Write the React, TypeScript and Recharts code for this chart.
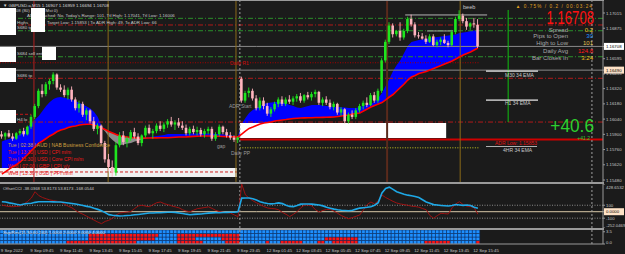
import React from "react";
import {
  ComposedChart,
  BarChart,
  Bar,
  Line,
  Area,
  XAxis,
  YAxis,
  ReferenceLine,
  ReferenceArea,
  Cell,
} from "recharts";

// GBPUSD.a M15, one entry per bar from 9 Sep 07:45 to 12 Sep 16:00
const opens = [
  1.159, 1.1588, 1.1591, 1.1588, 1.1586, 1.1591, 1.1593, 1.159, 1.1597, 1.1606,
  1.1616, 1.163, 1.1627, 1.1636, 1.1639, 1.1645, 1.1633, 1.1631, 1.1626, 1.1631,
  1.1622, 1.1614, 1.1618, 1.1608, 1.1612, 1.1602, 1.1595, 1.1598, 1.1582, 1.1567,
  1.156, 1.1555, 1.158, 1.1589, 1.1583, 1.1586, 1.1592, 1.1588, 1.1582, 1.1589,
  1.1596, 1.1591, 1.1593, 1.1598, 1.1595, 1.1599, 1.1602, 1.1599, 1.1601, 1.1598,
  1.1596, 1.1591, 1.1595, 1.1592, 1.1594, 1.159, 1.1593, 1.1595, 1.1586, 1.159,
  1.1597, 1.1592, 1.1589, 1.1587, 1.1585, 1.1641, 1.1621, 1.1628, 1.163, 1.1623,
  1.1614, 1.1621, 1.1616, 1.1609, 1.1613, 1.1618, 1.1622, 1.1618, 1.1622, 1.162,
  1.1623, 1.1625, 1.1621, 1.1626, 1.1624, 1.1627, 1.1629, 1.1619, 1.1622, 1.1619,
  1.1615, 1.1618, 1.161, 1.1613, 1.1602, 1.1608, 1.1606, 1.1612, 1.1616, 1.1619,
  1.1617, 1.1626, 1.1621, 1.163, 1.1658, 1.1675, 1.169, 1.1682, 1.1685, 1.1679,
  1.1685, 1.1696, 1.1691, 1.1681, 1.168, 1.1678, 1.1675, 1.168, 1.1672, 1.1675,
  1.1677, 1.1674, 1.1672, 1.1684, 1.1696, 1.1699, 1.1694, 1.1689, 1.1692, 1.16907,
];
const highs = [
  1.1593, 1.1592, 1.1594, 1.1591, 1.1592, 1.1595, 1.1596, 1.1598, 1.1608, 1.1618,
  1.1632, 1.1636, 1.1638, 1.1641, 1.1647, 1.1646, 1.1636, 1.1635, 1.1633, 1.1634,
  1.1624, 1.1621, 1.162, 1.1614, 1.1613, 1.1606, 1.16, 1.1599, 1.1584, 1.1572,
  1.1566, 1.1583, 1.1592, 1.1593, 1.1588, 1.1594, 1.1596, 1.1591, 1.159, 1.1598,
  1.1599, 1.1595, 1.16, 1.1602, 1.1601, 1.1604, 1.1606, 1.1603, 1.1605, 1.1602,
  1.1599, 1.1597, 1.1598, 1.1597, 1.1596, 1.1595, 1.1597, 1.1597, 1.1592, 1.1599,
  1.1598, 1.1595, 1.1592, 1.1589, 1.1588, 1.1643, 1.163, 1.1633, 1.1632, 1.1626,
  1.1624, 1.1624, 1.1619, 1.1615, 1.162, 1.1624, 1.1625, 1.1624, 1.1626, 1.1625,
  1.1627, 1.1628, 1.1627, 1.1629, 1.1629, 1.1631, 1.163, 1.1624, 1.1625, 1.1622,
  1.162, 1.1619, 1.1615, 1.1614, 1.161, 1.1612, 1.1614, 1.1618, 1.1621, 1.1624,
  1.1628, 1.1629, 1.1632, 1.166, 1.1677, 1.1693, 1.1692, 1.1686, 1.1693, 1.1687,
  1.1698, 1.17, 1.1693, 1.1684, 1.1683, 1.1681, 1.1682, 1.1682, 1.1677, 1.1679,
  1.1682, 1.1676, 1.1686, 1.1698, 1.1704, 1.1701, 1.1697, 1.1693, 1.1697, 1.16959,
];
const lows = [
  1.1586, 1.1585, 1.1587, 1.1584, 1.1585, 1.1589, 1.1588, 1.1589, 1.1595, 1.1604,
  1.1614, 1.1624, 1.1625, 1.1631, 1.1636, 1.1631, 1.1629, 1.1624, 1.1622, 1.162,
  1.1612, 1.161, 1.1606, 1.1603, 1.16, 1.1593, 1.159, 1.158, 1.1564, 1.1556,
  1.1551, 1.1552, 1.1578, 1.158, 1.1578, 1.1584, 1.1586, 1.158, 1.1579, 1.1587,
  1.159, 1.1586, 1.1591, 1.1593, 1.1592, 1.1596, 1.1597, 1.1594, 1.1596, 1.1594,
  1.1589, 1.1589, 1.159, 1.1589, 1.1588, 1.1587, 1.159, 1.1584, 1.1584, 1.1588,
  1.159, 1.1587, 1.1585, 1.1583, 1.1582, 1.1619, 1.1619, 1.1624, 1.1621, 1.1612,
  1.1612, 1.1613, 1.1607, 1.1606, 1.1611, 1.1615, 1.1616, 1.1616, 1.1618, 1.1617,
  1.162, 1.1619, 1.1619, 1.1622, 1.1621, 1.1624, 1.1617, 1.1616, 1.1617, 1.1613,
  1.1612, 1.1608, 1.1607, 1.16, 1.16, 1.1604, 1.1604, 1.161, 1.1613, 1.1615,
  1.1616, 1.1619, 1.1619, 1.1628, 1.1656, 1.1673, 1.1679, 1.168, 1.1676, 1.1677,
  1.1683, 1.1689, 1.1679, 1.1678, 1.1677, 1.1673, 1.1674, 1.1671, 1.167, 1.1672,
  1.1673, 1.167, 1.1671, 1.1682, 1.1694, 1.1692, 1.1686, 1.1686, 1.1688, 1.16694,
];
const closes = [
  1.1588, 1.1591, 1.1588, 1.1586, 1.1591, 1.1593, 1.159, 1.1597, 1.1606, 1.1616,
  1.163, 1.1627, 1.1636, 1.1639, 1.1645, 1.1633, 1.1631, 1.1626, 1.1631, 1.1622,
  1.1614, 1.1618, 1.1608, 1.1612, 1.1602, 1.1595, 1.1598, 1.1582, 1.1567, 1.156,
  1.1555, 1.158, 1.1589, 1.1583, 1.1586, 1.1592, 1.1588, 1.1582, 1.1589, 1.1596,
  1.1591, 1.1593, 1.1598, 1.1595, 1.1599, 1.1602, 1.1599, 1.1601, 1.1598, 1.1596,
  1.1591, 1.1595, 1.1592, 1.1594, 1.159, 1.1593, 1.1595, 1.1586, 1.159, 1.1597,
  1.1592, 1.1589, 1.1587, 1.1585, 1.1587, 1.1621, 1.1628, 1.163, 1.1623, 1.1614,
  1.1621, 1.1616, 1.1609, 1.1613, 1.1618, 1.1622, 1.1618, 1.1622, 1.162, 1.1623,
  1.1625, 1.1621, 1.1626, 1.1624, 1.1627, 1.1629, 1.1619, 1.1622, 1.1619, 1.1615,
  1.1618, 1.161, 1.1613, 1.1602, 1.1608, 1.1606, 1.1612, 1.1616, 1.1619, 1.1617,
  1.1626, 1.1621, 1.163, 1.1658, 1.1675, 1.169, 1.1682, 1.1685, 1.1679, 1.1685,
  1.1696, 1.1691, 1.1681, 1.168, 1.1678, 1.1675, 1.168, 1.1672, 1.1675, 1.1677,
  1.1674, 1.1672, 1.1684, 1.1696, 1.1699, 1.1694, 1.1689, 1.1692, 1.1691, 1.16708,
];

// fast (blue) and slow (red) moving averages
const fastMa = [
  1.15834, 1.15848, 1.15857, 1.15871, 1.15885, 1.15898, 1.1593, 1.15967, 1.15999, 1.16036,
  1.16068, 1.16115, 1.1616, 1.16197, 1.16225, 1.16238, 1.16243, 1.16234, 1.16229, 1.16216,
  1.16206, 1.16188, 1.16174, 1.16156, 1.16137, 1.16105, 1.16059, 1.15977, 1.15926, 1.1588,
  1.15848, 1.1582, 1.15802, 1.15807, 1.15816, 1.1582, 1.15834, 1.15843, 1.15852, 1.15862,
  1.15875, 1.1588, 1.15885, 1.15889, 1.15894, 1.15903, 1.15903, 1.15903, 1.15902, 1.15903,
  1.15904, 1.15907, 1.15908, 1.15908, 1.15909, 1.15908, 1.15907, 1.15907, 1.15903, 1.15902,
  1.15898, 1.15894, 1.15889, 1.15885, 1.15884, 1.15995, 1.1605, 1.16096, 1.16124, 1.16142,
  1.1616, 1.16179, 1.16188, 1.16192, 1.16197, 1.16197, 1.16192, 1.16183, 1.1617, 1.1616,
  1.16147, 1.16142, 1.16151, 1.1616, 1.1617, 1.1617, 1.16169, 1.16165, 1.1616, 1.16156,
  1.16151, 1.16151, 1.1615, 1.16147, 1.16142, 1.16142, 1.16143, 1.16151, 1.1616, 1.1617,
  1.16183, 1.16197, 1.16234, 1.1628, 1.16344, 1.16409, 1.16482, 1.16537, 1.16583, 1.16647,
  1.16712, 1.16749, 1.16758, 1.16767, 1.16772, 1.16776, 1.16785, 1.1679, 1.16794, 1.16799,
  1.16804, 1.16808, 1.16813, 1.16817, 1.16831, 1.16836, 1.1684, 1.1685, 1.16854, 1.16859,
];
const slowMa = [
  1.15535, 1.15558, 1.15581, 1.15604, 1.15623, 1.15646, 1.15682, 1.15715, 1.15751, 1.15784,
  1.1582, 1.15839, 1.15862, 1.15885, 1.15903, 1.15926, 1.1594, 1.15949, 1.15963, 1.15972,
  1.15977, 1.15986, 1.1599, 1.15992, 1.15993, 1.15986, 1.15972, 1.15961, 1.15944, 1.15926,
  1.15912, 1.15898, 1.15885, 1.1588, 1.15875, 1.15871, 1.15868, 1.15866, 1.15866, 1.15866,
  1.15866, 1.15867, 1.15867, 1.15868, 1.15868, 1.15869, 1.15871, 1.15873, 1.15875, 1.15876,
  1.15877, 1.15879, 1.15881, 1.15883, 1.15884, 1.15885, 1.15885, 1.15884, 1.15883, 1.15882,
  1.1588, 1.15879, 1.15878, 1.15877, 1.15876, 1.15903, 1.1593, 1.15954, 1.15967, 1.15981,
  1.15995, 1.16004, 1.16009, 1.16013, 1.16022, 1.16027, 1.16032, 1.16036, 1.16041, 1.16045,
  1.16048, 1.1605, 1.16051, 1.16052, 1.16053, 1.16054, 1.16055, 1.16056, 1.16057, 1.16058,
  1.16059, 1.16064, 1.16068, 1.16073, 1.16078, 1.16087, 1.16091, 1.16096, 1.16114, 1.16133,
  1.16151, 1.16165, 1.16179, 1.16192, 1.16216, 1.16243, 1.16266, 1.16298, 1.1633, 1.16363,
  1.16399, 1.16427, 1.1644, 1.16459, 1.16468, 1.16477, 1.16491, 1.16505, 1.16519, 1.16532,
  1.16546, 1.1656, 1.16574, 1.16592, 1.16611, 1.16629, 1.16643, 1.16657, 1.16675, 1.16693,
];

// OffsetCCI sub window: main (dark red) and signal (cyan)
const cciMain = [
  104, 90, 80, 77, 82, 88, 120, 160, 212, 309,
  250, 220, 200, 182, 172, 162, 150, 115, 85, 60,
  20, -15, -40, -70, -100, -130, -160, -185, -150, -132,
  -100, -50, -20, -12, -5, 5, 50, 90, 100, 85,
  78, 110, 140, 150, 125, 108, 90, 75, 60, 30,
  10, 0, 25, 48, 55, 65, 75, 50, 20, 2,
  -8, -15, -22, -50, -77, 428.6532, 260, 210, 170, 138,
  110, 80, 58, 50, 45, 30, -10, -40, -75, -40,
  0, 60, 104, 104, 90, 30, -5, 20, 35, 35,
  10, -25, -60, -85, -110, -90, -70, -50, 30, 110,
  150, 120, 170, 258, 220, 190, 160, 135, 120, 110,
  100, 85, 80, 70, 50, 30, -60, -100, -60, -25,
  -30, -35, 60, 120, 155, 110, 85, 80, 60, -38.0368,
];
const cciSignal = [
  155, 150, 137, 128, 115, 104, 118, 128, 132, 145,
  153, 155, 154, 153, 152, 151, 150, 143, 135, 128,
  118, 107, 95, 83, 72, 53, 36, 15, -14, -45,
  -55, -60, -66, -63, -58, -54, -48, -42, -35, -28,
  -21, -19, -17, -15, -12, -9, -8, -10, -19, -28,
  -38, -46, -42, -38, -35, -28, -22, -18, -16, -15,
  -13, -11, -9, -6, 0, 210, 212, 212, 200, 180,
  155, 140, 127, 121, 128, 137, 125, 100, 82, 78,
  95, 117, 119, 119, 117, 110, 104, 90, 70, 55,
  40, 30, 23, 19, 16, 22, 40, 56, 62, 68,
  77, 100, 140, 289, 360, 380, 345, 310, 290, 270,
  256, 248, 236, 220, 185, 150, 130, 110, 103, 97,
  92, 88, 95, 112, 105, 98, 104, 95, 70, 53.8173,
];

// multi timeframe strip: runs of red cells [fromBar, toBar], rows top to bottom
const heatRed1: number[][] = [];
const heatRed2 = [[24, 42], [48, 64]];
const heatRed3 = [[24, 41], [48, 52], [60, 64], [88, 96]];
const heatRed4 = [[18, 36], [48, 54], [61, 64], [72, 72], [76, 81], [86, 87], [90, 96], [115, 121], [129, 129]];

const timeBars = [0, 8, 16, 24, 32, 40, 48, 56, 64, 72, 80, 88, 96, 104, 112, 120, 128];
const timeLabels = [
  "9 Sep 2022", "9 Sep 09:45", "9 Sep 11:45", "9 Sep 13:45", "9 Sep 15:45", "9 Sep 17:45",
  "9 Sep 19:45", "9 Sep 21:45", "9 Sep 23:45", "12 Sep 01:45", "12 Sep 03:45", "12 Sep 05:45",
  "12 Sep 07:45", "12 Sep 09:45", "12 Sep 11:45", "12 Sep 13:45", "12 Sep 15:45",
];

const priceTicks = [1.17015, 1.16875, 1.16708, 1.16595, 1.1649, 1.16455, 1.1632, 1.1618, 1.1604, 1.159, 1.1576, 1.1562, 1.1548];
const cciTicks = [428.6532, 100, 0, -100, -252.0469];

// levels on the price window
const greenLevels = [1.16966, 1.16852, 1.16613];
const redLevels = [1.16905, 1.16415, 1.16013];
const greyLevels = [1.16708, 1.1649];
const dailyR1 = 1.16558;
const dailyPP = 1.15776;
const adrLow = 1.15853;
const h4Low = 1.16084;
const eventLine = 1.15554;

// vertical markers (bar position)
const sessionBars = [28.8, 63.45, 124.2];
const redMarkBar = 8.7;
const brownMarkBar = 104.4;
const weekBar = 64.5;
const shiftBar = 159.9;
const greenMarkBar = 137.2;

const X_DOMAIN: [number, number] = [-0.5, 162.9];
const PRICE_DOMAIN: [number, number] = [1.154619, 1.171345];
const CCI_DOMAIN: [number, number] = [-252.0469, 428.6532];
const BG = "#1b1b1b";
const FONT = "'Liberation Sans', Arial, sans-serif";

const inRuns = (runs: number[][], i: number) => runs.some(([a, b]) => i >= a && i <= b);
const heatRuns = [heatRed1, heatRed2, heatRed3, heatRed4];

const bars = closes.map((c, i) => {
  const f = fastMa[i];
  const s = slowMa[i];
  return {
    i,
    o: opens[i],
    h: highs[i],
    l: lows[i],
    c,
    range: [lows[i], highs[i]],
    slow: s,
    fast: f,
    blueBand: f >= s ? [s, f] : [s, s],
    greyBand: f < s ? [f, s] : [s, s],
    cci: cciMain[i],
    sig: cciSignal[i],
    r0: 1,
    r1: 1,
    r2: 1,
    r3: 1,
  };
});

function Candle(props: any) {
  const { x, y, width, height, payload } = props;
  if (!payload) return null;
  const { o, h, l, c } = payload;
  const top = Math.min(y, y + height);
  const span = Math.abs(height);
  const k = span / (h - l || 1e-9);
  const py = (v: number) => top + (h - v) * k;
  const cx = x + width / 2;
  const col = c >= o ? "#1ee61e" : "#ffb4be";
  const bt = py(Math.max(o, c));
  const bb = py(Math.min(o, c));
  return (
    <g>
      <line x1={cx} x2={cx} y1={top} y2={top + span} stroke={col} strokeWidth={0.9} />
      <rect x={cx - 1.3} y={bt} width={2.6} height={Math.max(0.8, bb - bt)} fill={col} />
    </g>
  );
}

function PriceTick(props: any) {
  const { y, payload } = props;
  const v = payload.value;
  const bg = v === 1.16708 ? "#ffffff" : v === 1.1649 ? "#ffe2c6" : null;
  return (
    <g>
      {bg && <rect x={604} y={y - 3.5} width={20} height={7} fill={bg} />}
      <text x={606} y={y + 1.5} fontSize={4.3} fill={bg ? "#000" : "#c8c8c8"} fontFamily={FONT}>
        {v.toFixed(5)}
      </text>
    </g>
  );
}

function CciTick(props: any) {
  const { y, payload } = props;
  const v = payload.value;
  const txt = v === 0 ? "0.0000" : Number.isInteger(v) ? String(v) : v.toFixed(4);
  const yy = v > 400 ? y + 3 : v < -200 ? y - 3 : y;
  return (
    <g>
      {v === 0 && <rect x={604} y={yy - 3.5} width={20} height={7} fill="#ffe2c6" />}
      <text x={606} y={yy + 1.5} fontSize={4.3} fill={v === 0 ? "#000" : "#c8c8c8"} fontFamily={FONT}>
        {txt}
      </text>
    </g>
  );
}

function HeatTick(props: any) {
  const { y, payload } = props;
  const v = payload.value;
  return (
    <text x={606} y={(v === 0 ? y - 2 : y) + 1.5} fontSize={4.3} fill="#c8c8c8" fontFamily={FONT}>
      {v.toFixed(1)}
    </text>
  );
}

function TimeTick(props: any) {
  const { x, payload } = props;
  const k = timeBars.indexOf(payload.value);
  return (
    <text x={x - 1} y={21.5} fontSize={4.3} fill="#c8c8c8" fontFamily={FONT}>
      {timeLabels[k]}
    </text>
  );
}

function Txt({ x, y, s, c = "#c8c8c8", f = 4.4, a = "start", sx = 1, ls = 0 }: any) {
  return (
    <text
      transform={`translate(${x},${y}) scale(${sx},1)`}
      fill={c}
      fontSize={f}
      textAnchor={a}
      fontFamily={FONT}
      letterSpacing={ls}
    >
      {s}
    </text>
  );
}

function Overlay() {
  return (
    <svg width={625} height={254} style={{ position: "absolute", left: 0, top: 0 }}>
      {/* panel frames */}
      <rect x={0} y={0} width={604} height={1} fill="#9a9a9a" />
      <rect x={0} y={182} width={604} height={2} fill="#9a9a9a" />
      <rect x={0} y={228} width={604} height={2} fill="#9a9a9a" />

      {/* top left info */}
      <Txt x={3} y={6.5} s="▼ GBPUSD.a,M15  1.16907 1.16959 1.16694 1.16708" c="#dcdcdc" />
      <Txt x={3} y={11.8} s="ADR | 08 (80) 124.8 | Mst 0)" />
      <Txt x={27} y={17} s="ADR Reached: No, Today's Range: 101, Ttl High: 1.17041, Ttl Low: 1.16006" />
      <Txt x={17} y={23.5} s="Highs" />
      <Txt x={47} y={23.5} s="Target Low: 1.15853 | To ADR High: 49, To ADR Low: 66" />
      <Txt x={17} y={29} s="S680 tp" />
      <Txt x={17} y={55} s="S684 sell entry" />
      <Txt x={17} y={77} s="S686 tp" />
      <Txt x={17} y={120.5} s="H4 lo" />
      <rect x={0} y={8} width={16} height={27} fill="#fff" />
      <rect x={31} y={8} width={14} height={24} fill="#fff" />
      <rect x={0} y={47} width={16} height={15} fill="#fff" />
      <rect x={42} y={47} width={14} height={13} fill="#fff" />
      <rect x={0} y={68} width={16} height={14} fill="#fff" />
      <rect x={0} y={110} width={16} height={13} fill="#fff" />

      {/* chart labels */}
      <Txt x={230} y={64.5} s="Daily R1" c="#c01010" f={5} />
      <Txt x={229} y={107.5} s="ADR Start" c="#9a9a9a" f={5} />
      <Txt x={217} y={147.5} s="gap" c="#9a9a9a" f={5} />
      <Txt x={231} y={154.5} s="Daily PP" c="#9a9a9a" f={5} />
      <Txt x={463} y={8.5} s="beeb" c="#c8c8c8" f={5.6} />

      {/* right info block */}
      <Txt x={593} y={7.5} s="▲ 0.75% / 0.2 / 00:03:24" c="#e0a020" f={4.6} a="end" ls={1.1} />
      <Txt x={594} y={24} s="1.16708" c="#ff1010" f={18} a="end" sx={0.73} />
      <Txt x={568} y={31.5} s="Spread" c="#a8a8a8" f={6} a="end" />
      <Txt x={568} y={38.3} s="Pips to Open" c="#a8a8a8" f={6} a="end" />
      <Txt x={568} y={45.2} s="High to Low" c="#a8a8a8" f={6} a="end" />
      <Txt x={568} y={52.5} s="Daily Avg" c="#a8a8a8" f={6} a="end" />
      <Txt x={568} y={59.5} s="Bar Closes In" c="#a8a8a8" f={6} a="end" />
      <Txt x={593} y={31.5} s="0.2" c="#f0c020" f={6} a="end" />
      <Txt x={593} y={38.3} s="30" c="#2090ff" f={6} a="end" />
      <Txt x={593} y={45.2} s="101" c="#e0c050" f={6} a="end" />
      <Txt x={593} y={52.5} s="124.8" c="#ff1a1a" f={6} a="end" />
      <Txt x={593} y={59.5} s="3:24" c="#f0c020" f={6} a="end" />

      {/* EMA markers */}
      <rect x={486} y={70.5} width={52} height={1.2} fill="#f0f0f0" />
      <Txt x={505} y={76.5} s="M30 34 EMA" c="#c8c8c8" f={5} />
      <rect x={486} y={99.5} width={52} height={1.2} fill="#f0f0f0" />
      <Txt x={505} y={105} s="H1 34 EMA" c="#c8c8c8" f={5} />
      <Txt x={594} y={131.5} s="+40.6" c="#2ed02e" f={18} a="end" sx={0.96} />
      <Txt x={590} y={140.2} s="+41.2" c="#2ed02e" f={5} a="end" />
      <Txt x={495} y={144.5} s="ADR Low: 1.15853" c="#e01010" f={5} />
      <rect x={486} y={146} width={51} height={1} fill="#b0b0b0" />
      <Txt x={503} y={152} s="4HR 34 EMA" c="#c8c8c8" f={5} />

      {/* calendar */}
      <Txt x={8} y={146.5} s="Tue | 02:38 | AUD | NAB Business Confidence" c="#d0a040" f={5} />
      <Txt x={8} y={153.5} s="Tue | 13:30 | USD | CPI m/m" c="#f01818" f={5} />
      <Txt x={8} y={160.5} s="Tue | 13:30 | USD | Core CPI m/m" c="#f01818" f={5} />
      <Txt x={8} y={167.5} s="Wed | 07:00 | GBP | CPI y/y" c="#f01818" f={5} />
      <Txt x={8} y={174.5} s="Wed | 13:30 | USD | PPI m/m" c="#f01818" f={5} />

      {/* sub windows */}
      <Txt x={3} y={190} s="OffsetCCI -38.0368 53.8173 53.8173 -168.0544" c="#c8c8c8" f={4.3} />
      <Txt x={3} y={234} s="Sup/Res(15,30,60,240) 1.0000 2.0000 3.0000 4.0000" c="#e8e8e8" f={4.3} />
    </svg>
  );
}

export default function App() {
  const dash = "5 2 1 2";
  return (
    <div style={{ position: "relative", width: 625, height: 254, background: BG, overflow: "hidden", fontFamily: FONT }}>
      <style>{"body{margin:0;background:#1b1b1b}"}</style>

      <div style={{ position: "absolute", left: 0, top: 0 }}>
        <ComposedChart width={625} height={182} data={bars} margin={{ top: 0, right: 0, bottom: 0, left: 0 }}>
          <XAxis type="number" dataKey="i" domain={X_DOMAIN} hide allowDataOverflow />
          <YAxis
            orientation="right"
            width={22}
            domain={PRICE_DOMAIN}
            allowDataOverflow
            ticks={priceTicks}
            interval={0}
            tick={(p: any) => <PriceTick {...p} />}
            tickSize={2}
            tickLine={{ stroke: "#9a9a9a" }}
            axisLine={{ stroke: "#9a9a9a" }}
          />
          <Area dataKey="blueBand" fill="#0000ff" fillOpacity={1} stroke="none" isAnimationActive={false} zIndex={100} />
          <Area dataKey="greyBand" fill="#8c8c8c" fillOpacity={1} stroke="none" isAnimationActive={false} zIndex={100} />
          <ReferenceArea x1={64.5} x2={120.4} y1={1.15866} y2={1.16004} fill="#ffffff" fillOpacity={1} stroke="none" zIndex={150} />
          <ReferenceArea x1={-0.5} x2={63.7} y1={1.15508} y2={1.15591} fill="#f2f2f2" fillOpacity={1} stroke="none" zIndex={150} />

          {greenLevels.map((p) => (
            <ReferenceLine key={"g" + p} y={p} stroke="#2b8f2b" strokeDasharray={dash} zIndex={200} />
          ))}
          {redLevels.map((p) => (
            <ReferenceLine key={"r" + p} y={p} stroke="#b01a1a" strokeDasharray={dash} zIndex={200} />
          ))}
          {greyLevels.map((p) => (
            <ReferenceLine key={"k" + p} y={p} stroke="#8a8a8a" zIndex={200} />
          ))}
          <ReferenceLine segment={[{ x: -0.5, y: dailyR1 }, { x: 129.5, y: dailyR1 }]} stroke="#a00000" strokeDasharray="1 1.5" zIndex={200} />
          <ReferenceLine segment={[{ x: 64.5, y: dailyPP }, { x: 129.5, y: dailyPP }]} stroke="#c8c820" strokeDasharray="1 1.5" zIndex={200} />
          <ReferenceLine segment={[{ x: 64.5, y: adrLow }, { x: 162.9, y: adrLow }]} stroke="#d00000" strokeWidth={2} zIndex={200} />
          <ReferenceLine segment={[{ x: -0.5, y: h4Low }, { x: 8, y: h4Low }]} stroke="#c01818" strokeDasharray="3 2" zIndex={200} />
          <ReferenceLine segment={[{ x: -0.5, y: eventLine }, { x: 63.7, y: eventLine }]} stroke="#d02020" strokeDasharray="3 2" zIndex={200} />
          <ReferenceLine segment={[{ x: 109.3, y: 1.16997 }, { x: 131.5, y: 1.16997 }]} stroke="#b4b4b4" zIndex={200} />
          <ReferenceLine segment={[{ x: 115.2, y: 1.1685 }, { x: 122.3, y: 1.1685 }]} stroke="#a0a0a0" zIndex={200} />

          <ReferenceLine x={redMarkBar} stroke="#b02020" zIndex={200} />
          {sessionBars.map((b) => (
            <ReferenceLine key={"s" + b} x={b} stroke="#8a6a18" zIndex={200} />
          ))}
          <ReferenceLine x={brownMarkBar} stroke="#5a2a1c" strokeWidth={2} zIndex={200} />
          <ReferenceLine x={weekBar} stroke="#a0a0a0" strokeDasharray="2 2" zIndex={200} />
          <ReferenceLine x={shiftBar} stroke="#a0a0a0" strokeDasharray="2 2" zIndex={200} />
          <ReferenceLine segment={[{ x: greenMarkBar, y: 1.17043 }, { x: greenMarkBar, y: 1.16013 }]} stroke="#10c010" zIndex={200} />

          <Line dataKey="slow" stroke="#ff0000" strokeWidth={1.6} dot={false} isAnimationActive={false} zIndex={250} />
          <Bar dataKey="range" barSize={3} shape={(p: any) => <Candle {...p} />} isAnimationActive={false} zIndex={300} />
        </ComposedChart>
      </div>

      <div style={{ position: "absolute", left: 0, top: 184 }}>
        <ComposedChart width={625} height={44} data={bars} margin={{ top: 0, right: 0, bottom: 0, left: 0 }}>
          <XAxis type="number" dataKey="i" domain={X_DOMAIN} hide allowDataOverflow />
          <YAxis
            orientation="right"
            width={22}
            domain={CCI_DOMAIN}
            allowDataOverflow
            ticks={cciTicks}
            interval={0}
            tick={(p: any) => <CciTick {...p} />}
            tickSize={2}
            tickLine={{ stroke: "#9a9a9a" }}
            axisLine={{ stroke: "#9a9a9a" }}
          />
          <ReferenceLine y={100} stroke="#8a8a8a" strokeDasharray="1 1.5" />
          <ReferenceLine y={-100} stroke="#8a8a8a" strokeDasharray="1 1.5" />
          <ReferenceLine y={0} stroke="#d8c8a8" />
          <ReferenceLine x={weekBar} stroke="#a0a0a0" strokeDasharray="2 2" />
          <ReferenceLine x={shiftBar} stroke="#a0a0a0" strokeDasharray="2 2" />
          <Line dataKey="cci" stroke="#9c1212" strokeWidth={1} dot={false} isAnimationActive={false} />
          <Line dataKey="sig" stroke="#1ea8e6" strokeWidth={1.6} dot={false} isAnimationActive={false} />
        </ComposedChart>
      </div>

      <div style={{ position: "absolute", left: 0, top: 230 }}>
        <BarChart width={625} height={24} data={bars} margin={{ top: 0, right: 0, bottom: 0, left: 0 }} barCategoryGap={0}>
          <XAxis
            type="number"
            dataKey="i"
            domain={X_DOMAIN}
            allowDataOverflow
            ticks={timeBars}
            interval={0}
            height={10}
            tick={(p: any) => <TimeTick {...p} />}
            tickLine={false}
            axisLine={{ stroke: "#9a9a9a" }}
          />
          <YAxis
            orientation="right"
            width={22}
            domain={[0, 4]}
            allowDataOverflow
            ticks={[0, 3.5]}
            interval={0}
            tick={(p: any) => <HeatTick {...p} />}
            tickSize={2}
            tickLine={{ stroke: "#9a9a9a" }}
            axisLine={{ stroke: "#9a9a9a" }}
          />
          {[3, 2, 1, 0].map((r) => (
            <Bar key={r} dataKey={"r" + r} stackId="h" barSize={3.69} stroke="#0c2a5c" strokeWidth={0.5} isAnimationActive={false}>
              {bars.map((b) => (
                <Cell key={b.i} fill={inRuns(heatRuns[r], b.i) ? "#ff1414" : "#1e90ff"} />
              ))}
            </Bar>
          ))}
          <ReferenceLine x={weekBar} stroke="#a0a0a0" strokeDasharray="2 2" />
          <ReferenceLine x={shiftBar} stroke="#a0a0a0" strokeDasharray="2 2" />
        </BarChart>
      </div>

      <Overlay />
    </div>
  );
}
